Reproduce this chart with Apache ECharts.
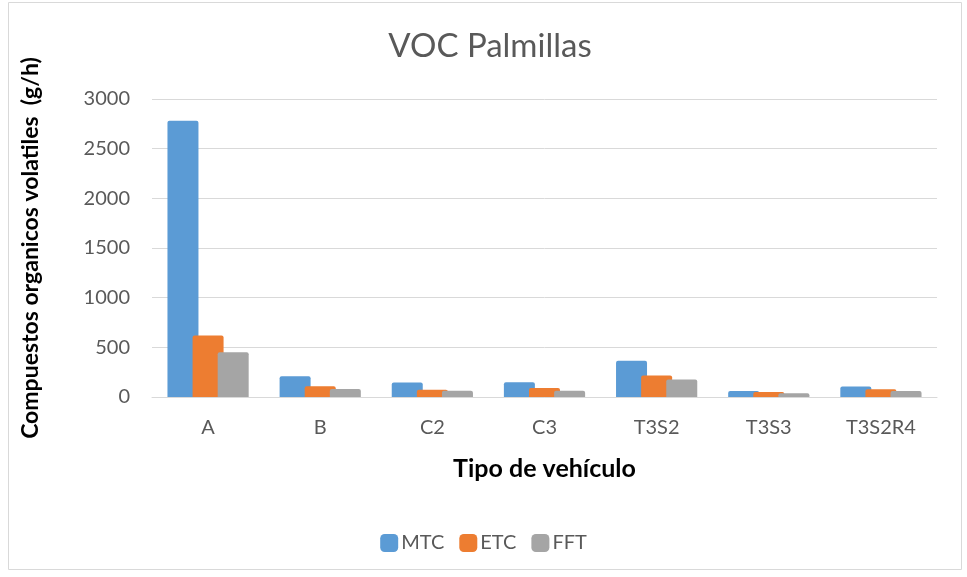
<!DOCTYPE html>
<html>
<head>
<meta charset="utf-8">
<script src="https://cdn.jsdelivr.net/npm/echarts@6/dist/echarts.min.js"></script>
<style>
  html, body { margin: 0; padding: 0; background: #fff; }
  #chart { width: 967px; height: 577px; }
</style>
</head>
<body>
<div id="chart"></div>
<script>
// Vehicle types along the x axis
const categories = ['A', 'B', 'C2', 'C3', 'T3S2', 'T3S3', 'T3S2R4'];
// Volatile organic compound emissions (g/h) per driving cycle
const mtc = [2780, 210, 145, 149, 365, 61, 105];
const etc = [620, 108, 74, 91, 216, 51, 78];
const fft = [450, 81, 64, 64, 176, 37, 61];
// Y axis range
const yMin = 0, yMax = 3000, yStep = 500;

const FONT = 'Lato, "Open Sans", sans-serif';
const chart = echarts.init(document.getElementById('chart'), null, { renderer: 'canvas' });

// Bars within a group slightly overlap one another
function barSeries(name, data, color) {
  return {
    name: name,
    type: 'bar',
    data: data,
    barWidth: 31,
    barGap: '-19%',
    itemStyle: { color: color, borderRadius: [2, 2, 0, 0] }
  };
}

chart.setOption({
  animation: false,
  textStyle: { fontFamily: FONT },
  title: {
    text: 'VOC Palmillas',
    left: 485,
    top: 25,
    textAlign: 'center',
    textStyle: { fontFamily: FONT, fontSize: 33, fontWeight: 'normal', color: '#595959' }
  },
  graphic: [{
    type: 'rect',
    shape: { x: 8.5, y: 2.5, width: 953, height: 567 },
    style: { fill: 'none', stroke: '#d9d9d9', lineWidth: 1 },
    silent: true
  }],
  legend: {
    data: ['MTC', 'ETC', 'FFT'],
    left: 'center',
    top: 528,
    itemWidth: 18,
    itemHeight: 18,
    itemGap: 15,
    icon: 'roundRect',
    textStyle: { fontFamily: FONT, fontSize: 20, color: '#595959', padding: [0, 0, 0, -2] }
  },
  grid: { left: 152, right: 30, top: 99, bottom: 180, containLabel: false },
  xAxis: {
    type: 'category',
    data: categories,
    name: 'Tipo de vehículo',
    nameLocation: 'middle',
    nameGap: 59,
    nameTextStyle: { fontFamily: FONT, fontSize: 25, fontWeight: 'bold', color: '#000' },
    axisLine: { lineStyle: { color: '#d9d9d9', width: 1 } },
    axisTick: { show: false },
    axisLabel: { fontFamily: FONT, fontSize: 20, color: '#595959', margin: 21 }
  },
  yAxis: {
    type: 'value',
    min: yMin,
    max: yMax,
    interval: yStep,
    name: 'Compuestos organicos volatiles  (g/h)',
    nameLocation: 'middle',
    nameGap: 110,
    nameTextStyle: { fontFamily: FONT, fontSize: 23, fontWeight: 'bold', color: '#000' },
    axisLine: { show: false },
    axisTick: { show: false },
    axisLabel: { fontFamily: FONT, fontSize: 20, color: '#595959', margin: 22, formatter: v => String(v) },
    splitLine: { lineStyle: { color: '#d9d9d9', width: 1 } }
  },
  series: [
    barSeries('MTC', mtc, '#5b9bd5'),
    barSeries('ETC', etc, '#ed7d31'),
    barSeries('FFT', fft, '#a5a5a5')
  ]
});
</script>
</body>
</html>
